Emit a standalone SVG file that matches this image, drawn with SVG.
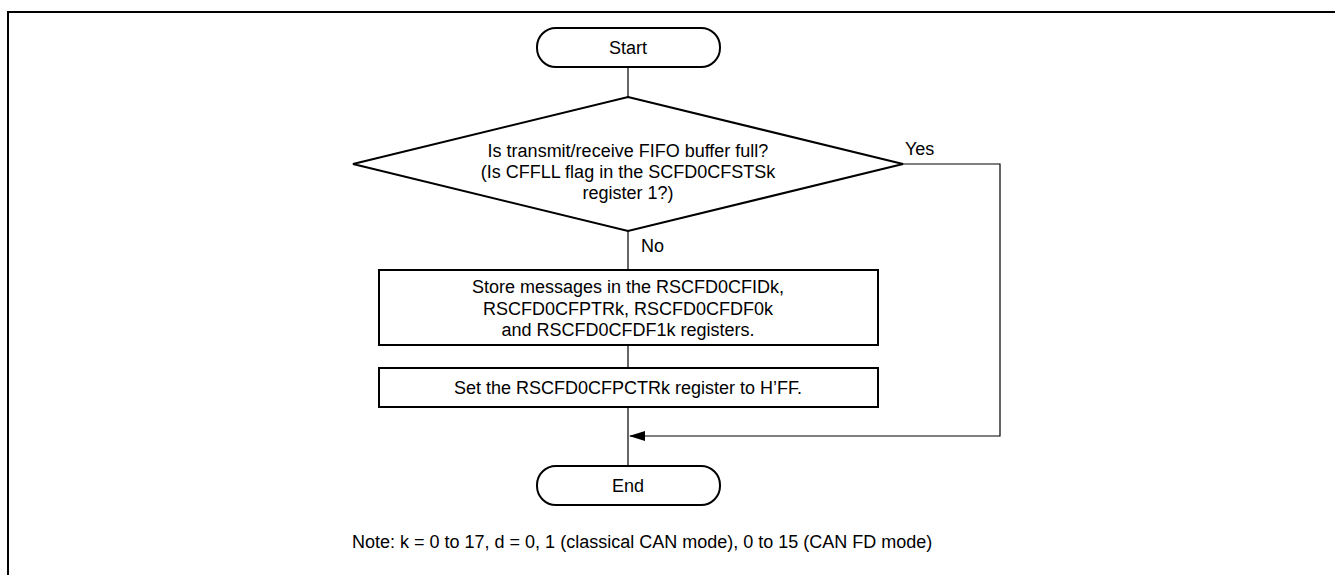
<svg xmlns="http://www.w3.org/2000/svg" width="1335" height="575" viewBox="0 0 1335 575">
<defs>
<style>
.shape{fill:#fff;stroke:#000;stroke-width:2}
.conn{fill:none;stroke:#000;stroke-width:1.2}
text{font-family:"Liberation Sans",Arial,sans-serif;font-size:18px;fill:#000}
.c{text-anchor:middle}
</style>
<marker id="arr" markerWidth="16" markerHeight="10" refX="15" refY="5" orient="auto" markerUnits="userSpaceOnUse">
<path d="M0,0 L16,5 L0,10 Z" fill="#000"/>
</marker>
</defs>
<rect width="1335" height="575" fill="#fff"/>
<g id="frame"><path d="M8,575 V12 H1335" fill="none" stroke="#000" stroke-width="2"/></g>
<g id="connectors">
<line class="conn" x1="628" y1="67" x2="628" y2="97"/>
<line class="conn" x1="628" y1="231" x2="628" y2="270"/>
<line class="conn" x1="628" y1="345" x2="628" y2="368"/>
<line class="conn" x1="628" y1="407" x2="628" y2="466"/>
<path class="conn" d="M903,164 H1000 V436 H630" marker-end="url(#arr)"/>
<text x="905" y="155">Yes</text>
<text x="641" y="252">No</text>
</g>
<g id="start">
<rect class="shape" x="537" y="28" width="183" height="39" rx="19" ry="19"/>
<text class="c" x="628" y="54">Start</text>
</g>
<g id="decision">
<polygon class="shape" points="628,97 903,164 628,231 353,164"/>
<text class="c" x="628" y="157">Is transmit/receive FIFO buffer full?</text>
<text class="c" x="628" y="178">(Is CFFLL flag in the SCFD0CFSTSk</text>
<text class="c" x="628" y="199">register 1?)</text>
</g>
<g id="store">
<rect class="shape" x="379" y="270" width="499" height="75"/>
<text class="c" x="628" y="293">Store messages in the RSCFD0CFIDk,</text>
<text class="c" x="628" y="315">RSCFD0CFPTRk, RSCFD0CFDF0k</text>
<text class="c" x="628" y="336">and RSCFD0CFDF1k registers.</text>
</g>
<g id="set">
<rect class="shape" x="379" y="368" width="499" height="39"/>
<text class="c" x="628" y="394">Set the RSCFD0CFPCTRk register to H’FF.</text>
</g>
<g id="end">
<rect class="shape" x="537" y="466" width="183" height="39" rx="19" ry="19"/>
<text class="c" x="628" y="492">End</text>
</g>
<g id="note">
<text x="352" y="548">Note: k = 0 to 17, d = 0, 1 (classical CAN mode), 0 to 15 (CAN FD mode)</text>
</g>
</svg>
